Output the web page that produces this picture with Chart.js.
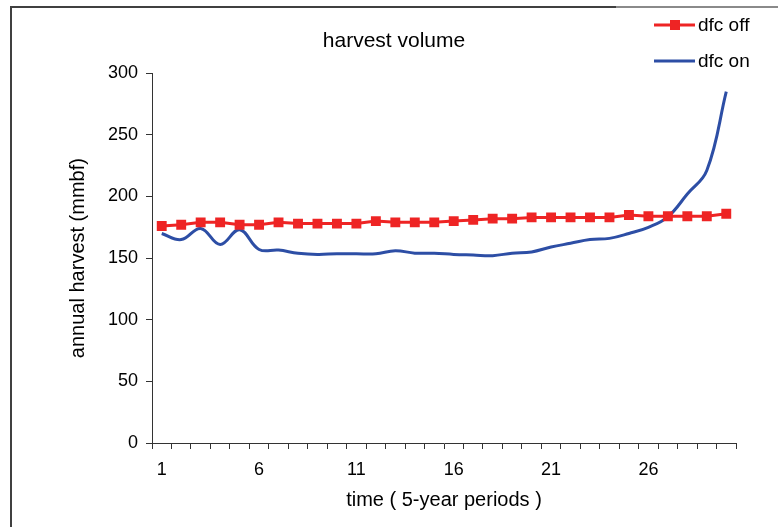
<!DOCTYPE html>
<html lang="en">
<head>
    <meta charset="UTF-8">
    <title>harvest volume</title>
    <style>
        body {
            margin: 0;
            background-color: #fff;
        }
        #chartBox {
            position: relative;
            width: 778px;
            height: 527px;
        }
    </style>
    <script src="https://cdn.jsdelivr.net/npm/chart.js"></script>
</head>
<body>
    <div id="chartBox">
        <canvas id="harvestChart" width="778" height="527"></canvas>
    </div>

    <script>
        // 5-year periods
        const periods = ['1', '2', '3', '4', '5', '6', '7', '8', '9', '10',
            '11', '12', '13', '14', '15', '16', '17', '18', '19', '20',
            '21', '22', '23', '24', '25', '26', '27', '28', '29', '30'];
        const shownTicks = ['1', '6', '11', '16', '21', '26'];

        // annual harvest (mmbf)
        const dfcOff = [176, 177, 179, 179, 177, 177, 179, 178, 178, 178,
            178, 180, 179, 179, 179, 180, 181, 182, 182, 183,
            183, 183, 183, 183, 185, 184, 184, 184, 184, 186];
        const dfcOn = [170, 165, 174, 161, 173, 157, 156.5, 154, 153, 153.5,
            153.5, 153.5, 156, 154, 154, 153, 152.5, 152, 154, 155,
            159, 162, 165, 166, 170, 175, 183.5, 202, 221, 285];

        const redColor = '#ee2424';
        const blueColor = '#2d4ea5';

        // frame round the chart plus the hand placed legend
        const frameAndLegend = {
            id: 'frameAndLegend',
            afterDraw(chart) {
                const ctx = chart.ctx;
                ctx.save();
                ctx.lineWidth = 2;
                ctx.strokeStyle = '#404040';
                ctx.beginPath();
                ctx.moveTo(11, 530);
                ctx.lineTo(11, 7);
                ctx.lineTo(616, 7);
                ctx.stroke();
                ctx.strokeStyle = '#8a8a8a';
                ctx.beginPath();
                ctx.moveTo(616, 7);
                ctx.lineTo(778, 7);
                ctx.stroke();

                // dfc off
                ctx.lineWidth = 3;
                ctx.strokeStyle = redColor;
                ctx.beginPath();
                ctx.moveTo(654, 25);
                ctx.lineTo(695, 25);
                ctx.stroke();
                ctx.fillStyle = redColor;
                ctx.fillRect(670, 20, 10, 10);

                // dfc on
                ctx.strokeStyle = blueColor;
                ctx.beginPath();
                ctx.moveTo(654, 61);
                ctx.lineTo(695, 61);
                ctx.stroke();

                ctx.fillStyle = '#000';
                ctx.font = '19px "Liberation Sans", Arial, sans-serif';
                ctx.textBaseline = 'middle';
                ctx.textAlign = 'left';
                ctx.fillText('dfc off', 698, 26);
                ctx.fillText('dfc on', 698, 62);
                ctx.restore();
            }
        };

        const ctx = document.getElementById('harvestChart').getContext('2d');
        const harvestChart = new Chart(ctx, {
            type: 'line',
            data: {
                labels: periods,
                datasets: [{
                    label: 'dfc off',
                    data: dfcOff,
                    borderColor: redColor,
                    backgroundColor: redColor,
                    borderWidth: 3,
                    pointStyle: 'rect',
                    pointRadius: 7,
                    pointBorderWidth: 0,
                    tension: 0
                }, {
                    label: 'dfc on',
                    data: dfcOn,
                    borderColor: blueColor,
                    backgroundColor: blueColor,
                    borderWidth: 3,
                    pointRadius: 0,
                    tension: 0.4
                }]
            },
            options: {
                responsive: false,
                animation: false,
                layout: {
                    padding: { left: 52, right: 42, top: 0, bottom: 0 }
                },
                scales: {
                    x: {
                        offset: true,
                        afterFit: function (scale) { scale.height = 84; },
                        grid: {
                            offset: true,
                            drawOnChartArea: false,
                            drawTicks: true,
                            tickLength: 6,
                            tickColor: '#333'
                        },
                        border: { display: true, color: '#333', width: 1 },
                        ticks: {
                            autoSkip: false,
                            maxRotation: 0,
                            padding: 10,
                            color: '#000',
                            font: { family: '"Liberation Sans", Arial', size: 18 },
                            callback: function (value, index) {
                                const lab = periods[index];
                                return shownTicks.includes(lab) ? lab : '';
                            }
                        },
                        title: {
                            display: true,
                            text: 'time ( 5-year periods )',
                            color: '#000',
                            font: { family: '"Liberation Sans", Arial', size: 20 },
                            padding: { top: 0, bottom: 15 }
                        }
                    },
                    y: {
                        min: 0,
                        max: 300,
                        afterFit: function (scale) { scale.width = 100; },
                        grid: {
                            drawOnChartArea: false,
                            drawTicks: true,
                            tickLength: 6,
                            tickColor: '#333'
                        },
                        border: { display: true, color: '#333', width: 1 },
                        ticks: {
                            stepSize: 50,
                            padding: 8,
                            color: '#000',
                            font: { family: '"Liberation Sans", Arial', size: 18 }
                        },
                        title: {
                            display: true,
                            text: 'annual harvest (mmbf)',
                            color: '#000',
                            font: { family: '"Liberation Sans", Arial', size: 20 },
                            padding: { top: 14, bottom: 0 }
                        }
                    }
                },
                plugins: {
                    legend: { display: false },
                    tooltip: { enabled: false },
                    title: {
                        display: true,
                        text: 'harvest volume',
                        color: '#000',
                        font: { family: '"Liberation Sans", Arial', size: 21, weight: 'normal' },
                        padding: { top: 29, bottom: 19 }
                    }
                }
            },
            plugins: [frameAndLegend]
        });
    </script>
</body>
</html>
